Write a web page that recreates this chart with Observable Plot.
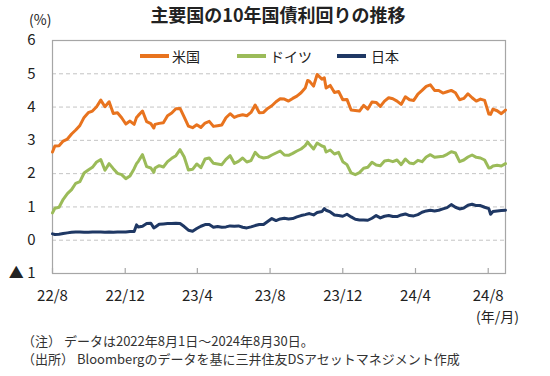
<!DOCTYPE html>
<html><head><meta charset="utf-8">
<script src="https://cdn.jsdelivr.net/npm/d3@7"></script>
<script src="https://cdn.jsdelivr.net/npm/@observablehq/plot@0.6"></script>
<style>
body{margin:0;background:#fff;font-family:"Noto Sans CJK JP","Noto Sans",sans-serif;}
#wrap{position:relative;width:550px;height:376px;overflow:hidden;background:#fff;}
.abs{position:absolute;white-space:nowrap;color:#222;}
.leg{position:absolute;height:4px;top:54px;width:29px;}
</style></head><body><div id="wrap"></div>
<script>
const dates = ["2022-08-01","2022-08-05","2022-08-12","2022-08-19","2022-08-26","2022-09-02","2022-09-09","2022-09-16","2022-09-23","2022-09-30",
"2022-10-07","2022-10-14","2022-10-21","2022-10-28","2022-11-04","2022-11-11","2022-11-18","2022-11-25","2022-12-02","2022-12-09",
"2022-12-16","2022-12-20","2022-12-23","2022-12-30","2023-01-06","2023-01-13","2023-01-18","2023-01-20","2023-01-27","2023-02-03",
"2023-02-10","2023-02-17","2023-02-24","2023-03-03","2023-03-10","2023-03-17","2023-03-24","2023-03-31","2023-04-07","2023-04-14",
"2023-04-21","2023-04-28","2023-05-05","2023-05-12","2023-05-19","2023-05-26","2023-06-02","2023-06-09","2023-06-16","2023-06-23",
"2023-06-30","2023-07-07","2023-07-14","2023-07-21","2023-07-28","2023-08-04","2023-08-11","2023-08-18","2023-08-25","2023-09-01",
"2023-09-08","2023-09-15","2023-09-22","2023-09-29","2023-10-03","2023-10-06","2023-10-13","2023-10-19","2023-10-27","2023-10-31",
"2023-11-03","2023-11-10","2023-11-17","2023-11-24","2023-12-01","2023-12-08","2023-12-15","2023-12-22","2023-12-29","2024-01-05",
"2024-01-12","2024-01-19","2024-01-26","2024-02-02","2024-02-09","2024-02-16","2024-02-23","2024-03-01","2024-03-08","2024-03-15",
"2024-03-22","2024-03-29","2024-04-05","2024-04-12","2024-04-19","2024-04-26","2024-05-03","2024-05-10","2024-05-17","2024-05-24",
"2024-05-31","2024-06-07","2024-06-14","2024-06-21","2024-06-28","2024-07-05","2024-07-12","2024-07-19","2024-07-26","2024-08-02",
"2024-08-05","2024-08-09","2024-08-16","2024-08-23","2024-08-30"];
const us = [2.65,2.83,2.84,2.98,3.04,3.19,3.31,3.45,3.69,3.83,
3.88,4.01,4.21,4.01,4.16,3.81,3.83,3.68,3.49,3.58,
3.48,3.69,3.75,3.88,3.56,3.50,3.37,3.48,3.51,3.53,
3.74,3.82,3.95,3.96,3.70,3.43,3.38,3.47,3.39,3.52,
3.57,3.42,3.44,3.46,3.68,3.80,3.69,3.74,3.77,3.74,
3.84,4.06,3.83,3.84,3.96,4.04,4.16,4.25,4.24,4.18,
4.26,4.33,4.43,4.57,4.80,4.78,4.63,4.98,4.84,4.88,
4.57,4.65,4.44,4.47,4.22,4.23,3.91,3.90,3.88,4.05,
3.94,4.15,4.14,4.02,4.18,4.28,4.25,4.18,4.08,4.31,
4.22,4.20,4.39,4.50,4.62,4.67,4.50,4.50,4.42,4.46,
4.50,4.43,4.22,4.26,4.40,4.28,4.18,4.24,4.20,3.79,
3.78,3.94,3.89,3.80,3.91];
const de = [0.82,0.96,0.99,1.23,1.40,1.52,1.71,1.76,2.02,2.11,
2.19,2.35,2.42,2.10,2.30,2.15,2.01,1.97,1.85,1.93,
2.15,2.30,2.37,2.57,2.21,2.17,2.04,2.17,2.24,2.20,
2.36,2.46,2.54,2.72,2.50,2.11,2.13,2.29,2.18,2.44,
2.47,2.31,2.29,2.27,2.43,2.54,2.31,2.37,2.47,2.35,
2.39,2.64,2.51,2.47,2.49,2.56,2.62,2.68,2.56,2.55,
2.61,2.68,2.74,2.84,2.95,2.88,2.74,2.92,2.83,2.81,
2.65,2.71,2.59,2.64,2.36,2.27,2.02,1.97,2.03,2.16,
2.19,2.34,2.26,2.24,2.38,2.40,2.36,2.41,2.27,2.44,
2.32,2.30,2.40,2.36,2.50,2.57,2.49,2.51,2.52,2.58,
2.66,2.62,2.36,2.41,2.50,2.56,2.49,2.47,2.41,2.17,
2.18,2.23,2.25,2.23,2.30];
const jp = [0.19,0.17,0.18,0.20,0.22,0.24,0.25,0.25,0.24,0.24,
0.25,0.25,0.25,0.24,0.25,0.24,0.25,0.25,0.25,0.26,
0.26,0.46,0.40,0.42,0.50,0.51,0.37,0.39,0.48,0.49,
0.50,0.50,0.51,0.50,0.41,0.30,0.27,0.35,0.42,0.47,
0.47,0.39,0.41,0.39,0.40,0.43,0.42,0.43,0.39,0.37,
0.40,0.44,0.47,0.47,0.56,0.65,0.59,0.64,0.66,0.64,
0.65,0.70,0.74,0.77,0.79,0.80,0.76,0.83,0.86,0.95,
0.90,0.85,0.76,0.74,0.72,0.78,0.70,0.63,0.61,0.61,
0.60,0.66,0.74,0.67,0.72,0.74,0.71,0.71,0.76,0.79,
0.74,0.73,0.77,0.84,0.88,0.90,0.88,0.90,0.94,0.98,
1.07,0.99,0.94,0.97,1.05,1.08,1.04,1.04,0.99,0.95,
0.78,0.86,0.88,0.89,0.90];
const seriesNames = ["米国","ドイツ","日本"];
const seriesColors = ["#E8731E","#9BBB59","#1F3864"];
const yTicks = [-1,0,1,2,3,4,5,6];
const gridValues = [0,1,2,3,4,5];
const xTickDates = ["2022-08-01","2022-12-01","2023-04-01","2023-08-01","2023-12-01","2024-04-01","2024-08-01"];
const xTickLabels = ["22/8","22/12","23/4","23/8","23/12","24/4","24/8"];
const xDomain = ["2022-08-01","2024-08-30"];
const titleText = "主要国の10年国債利回りの推移";
const unitText = "(%)";
const xUnitText = "(年/月)";
const notes = ["（注） データは2022年8月1日～2024年8月30日。","（出所） Bloombergのデータを基に三井住友DSアセットマネジメント作成"];

const parse = d3.utcParse("%Y-%m-%d");
const table = [];
[us, de, jp].forEach((arr, s) => arr.forEach((v, i) => table.push({series: seriesNames[s], date: parse(dates[i]), v})));
const tickDates = xTickDates.map(parse);
const labelMap = new Map(tickDates.map((d, i) => [+d, xTickLabels[i]]));

const chart = Plot.plot({
  width: 550, height: 376,
  marginLeft: 52, marginRight: 45, marginTop: 40, marginBottom: 103,
  style: {fontFamily: '"Noto Sans CJK JP","Noto Sans",sans-serif', fontSize: "15px", color: "#222", background: "transparent"},
  x: {type: "utc", domain: xDomain.map(parse), label: null},
  y: {domain: [-1, 6], label: null},
  color: {domain: seriesNames, range: seriesColors},
  marks: [
    Plot.ruleY(gridValues, {stroke: "#c4c4c4", strokeDasharray: "4 3", strokeWidth: 1}),
    Plot.frame({stroke: "#a6a6a6", strokeWidth: 1.2}),
    Plot.ruleX(tickDates, {y1: -1, y2: -0.85, stroke: "#a6a6a6", strokeWidth: 1.2}),
    Plot.axisY(yTicks, {tickSize: 0, tickPadding: 17, label: null, tickFormat: d => d < 0 ? "▲ " + (-d) : String(d), fill: "#222"}),
    Plot.axisX(tickDates, {tickSize: 0, tickPadding: 17, label: null, tickFormat: d => labelMap.get(+d), fill: "#222"}),
    Plot.line(table, {x: "date", y: "v", z: "series", stroke: "series", strokeWidth: 3, strokeLinejoin: "round"})
  ]
});
const wrap = document.getElementById("wrap");
chart.style.position = "absolute";
chart.style.left = "0px";
chart.style.top = "0px";
wrap.appendChild(chart);

function addText(txt, css) {
  const el = document.createElement("div");
  el.className = "abs";
  el.textContent = txt;
  Object.assign(el.style, css);
  wrap.appendChild(el);
  return el;
}
addText(titleText, {left: "0px", width: "556px", textAlign: "center", top: "2px", fontSize: "18px", fontWeight: "bold", lineHeight: "24px"});
addText(unitText, {left: "29px", top: "10px", fontSize: "14px", lineHeight: "18px"});
addText(xUnitText, {right: "31px", top: "308px", fontSize: "14px", lineHeight: "16px"});
addText(notes[0], {left: "22px", top: "333px", fontSize: "13px", lineHeight: "15px", color: "#333"});
addText(notes[1], {left: "22px", top: "351px", fontSize: "13px", lineHeight: "15px", color: "#333"});

const legX = [140, 237, 337];
const legTextX = [172, 270, 371];
seriesNames.forEach((n, i) => {
  const ln = document.createElement("div");
  ln.className = "leg";
  ln.style.left = legX[i] + "px";
  ln.style.background = seriesColors[i];
  wrap.appendChild(ln);
  addText(n, {left: legTextX[i] + "px", top: "47px", fontSize: "14px", lineHeight: "18px"});
});
</script>
</body></html>
